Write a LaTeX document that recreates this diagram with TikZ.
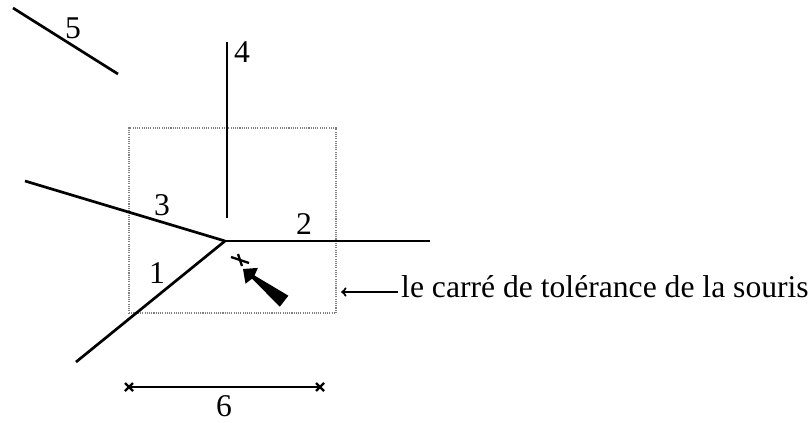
\documentclass[tikz,border=0pt]{standalone}
\usepackage{fontspec}
\setmainfont{Liberation Serif}
\usetikzlibrary{arrows,positioning,calc}

\begin{document}
\begin{tikzpicture}[x=0.03cm,y=-0.03cm,
  seg/.style={line width=2.3pt},
  lbl/.style={inner sep=0pt,font=\fontsize{27}{32}\selectfont},
  mk/.style={line width=2pt}]
\useasboundingbox (0,0) rectangle (811,423);

% mouse tolerance square
\node[draw=gray,densely dotted,line width=0.9pt,minimum width=6.21cm,minimum height=5.55cm,inner sep=0pt] (tol) at (232.5,220.5) {};

% segments
\coordinate (j) at (225,241);
\coordinate (e1) at (76,362);
\coordinate (e2) at (430,241);
\coordinate (e3) at (25,181);
\coordinate (e4a) at (227,42);
\coordinate (e4b) at (227,218);
\coordinate (e5a) at (13,8);
\coordinate (e5b) at (118,74);

\draw[seg] (j) -- (e1);
\draw[seg] (j) -- (e2);
\draw[seg] (j) -- (e3);
\draw[seg] (e4a) -- (e4b);
\draw[seg] (e5a) -- (e5b);

\node[lbl] (n1) at (157,273) {1};
\node[lbl] (n2) at (304,224) {2};
\node[lbl] (n3) at (162,205) {3};
\node[lbl] (n4) at (242,52) {4};
\node[lbl] (n5) at (73,28) {5};

% click point and cursor
\coordinate (ck) at (240,260);
\draw[mk] ($(ck)+(-9,-3)$) -- ($(ck)+(9,3)$);
\draw[mk] ($(ck)+(-2,-6)$) -- ($(ck)+(2,6)$);
\fill (243,269) -- (257.9,267.9) -- (254.5,275.5) -- (288.4,295.7) -- (279.8,306.7)
  -- (252.1,278.7) -- (245.5,283.7) -- cycle;

% caption of the square
\node[lbl,anchor=base west] (txt) at (401,297) {le carré de tolérance de la souris};
\coordinate (pt) at (398,292);
\draw[->,line width=1.8pt,shorten >=4pt] (pt) -- (pt -| tol.east);

% width of the square
\coordinate (d1) at (129,387);
\coordinate (d2) at (320,387);
\draw[seg] (d1) -- (d2);
\foreach \p in {d1,d2} {
  \draw[mk] ($(\p)+(-4,-4)$) -- ($(\p)+(4,4)$);
  \draw[mk] ($(\p)+(-4,4)$) -- ($(\p)+(4,-4)$);
}
\node[lbl] (n6) at (224,406) {6};
\end{tikzpicture}
\end{document}
